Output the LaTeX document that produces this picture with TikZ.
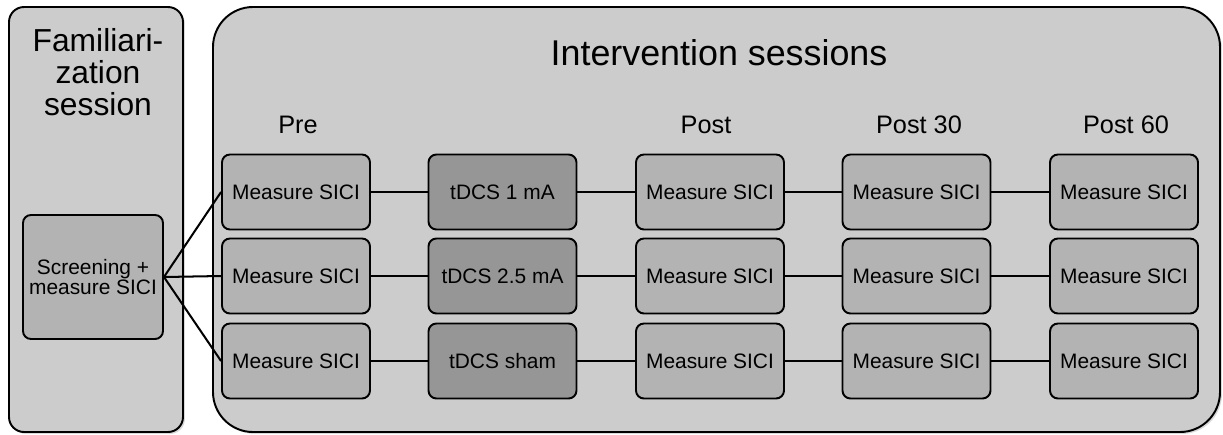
\documentclass[tikz,border=0pt]{standalone}
\usepackage{fontspec}
\setmainfont{Liberation Sans}
\usetikzlibrary{shadows}
\definecolor{siciInk}{RGB}{0,0,0}
\definecolor{siciPanel}{RGB}{204,204,204}
\definecolor{siciBox}{RGB}{179,179,179}
\definecolor{siciStim}{RGB}{150,150,150}
\tikzset{
  spanel/.style={draw=siciInk, fill=siciPanel, line width=1.1pt,
    drop shadow={shadow xshift=1.1pt, shadow yshift=-1.1pt, opacity=.3}},
  stitle/.style={font=\fontsize{18.1}{18.1}\selectfont, text=siciInk,
    align=center, inner sep=0pt},
  shead/.style={font=\fontsize{20.4}{22}\selectfont, text=siciInk,
    anchor=base, inner sep=0pt},
  stime/.style={font=\fontsize{14.4}{15}\selectfont, text=siciInk,
    anchor=base, inner sep=0pt},
  sbox/.style={rounded corners=4.5pt, draw=siciInk, line width=1.1pt,
    fill=siciBox, minimum width=2.96cm, minimum height=1.5cm,
    font=\fontsize{11.9}{11.3}\selectfont, text=siciInk, align=center,
    inner sep=1pt},
  slink/.style={draw=siciInk, line width=1.15pt}
}

\begin{document}
\begin{tikzpicture}[x=.02cm, y=-.02cm,
  measure/.style={sbox},
  stim/.style={sbox, fill=siciStim},
  screen/.style={sbox, minimum width=2.8cm, minimum height=2.48cm}
]
\path[use as bounding box] (0,0) rectangle (1223,434);

% session panels
\draw[spanel, rounded corners=.3cm] (9,7) rectangle (183,432);
\draw[spanel, rounded corners=.8cm] (213,7) rectangle (1220,432);

\node[stitle] (famtitle) at (98,72) {Familiari-\\zation\\session};
\node[shead] (intvtitle) at (719,65) {Intervention sessions};

\node[stime] (tpre) at (298,133) {Pre};
\node[stime] (tpost) at (706,133) {Post};
\node[stime] (tthirty) at (919,133) {Post 30};
\node[stime] (tsixty) at (1126,133) {Post 60};

\node[screen] (screen) at (93,277) {Screening +\\measure SICI};

\node[measure] (pre1) at (296,192) {Measure SICI};
\node[measure] (pre2) at (296,276) {Measure SICI};
\node[measure] (pre3) at (296,361) {Measure SICI};
\node[stim] (stim1) at (502.5,192) {tDCS 1 mA};
\node[stim] (stim2) at (502.5,276) {tDCS 2.5 mA};
\node[stim] (stim3) at (502.5,361) {tDCS sham};
\node[measure] (post1) at (710,192) {Measure SICI};
\node[measure] (post2) at (710,276) {Measure SICI};
\node[measure] (post3) at (710,361) {Measure SICI};
\node[measure] (thirty1) at (916.5,192) {Measure SICI};
\node[measure] (thirty2) at (916.5,276) {Measure SICI};
\node[measure] (thirty3) at (916.5,361) {Measure SICI};
\node[measure] (sixty1) at (1124,192) {Measure SICI};
\node[measure] (sixty2) at (1124,276) {Measure SICI};
\node[measure] (sixty3) at (1124,361) {Measure SICI};

\draw[slink] (screen.east) -- (pre1.west);
\draw[slink] (screen.east) -- (pre2.west);
\draw[slink] (screen.east) -- (pre3.west);

\draw[slink] (pre1) -- (stim1);
\draw[slink] (stim1) -- (post1);
\draw[slink] (post1) -- (thirty1);
\draw[slink] (thirty1) -- (sixty1);
\draw[slink] (pre2) -- (stim2);
\draw[slink] (stim2) -- (post2);
\draw[slink] (post2) -- (thirty2);
\draw[slink] (thirty2) -- (sixty2);
\draw[slink] (pre3) -- (stim3);
\draw[slink] (stim3) -- (post3);
\draw[slink] (post3) -- (thirty3);
\draw[slink] (thirty3) -- (sixty3);
\end{tikzpicture}
\end{document}
